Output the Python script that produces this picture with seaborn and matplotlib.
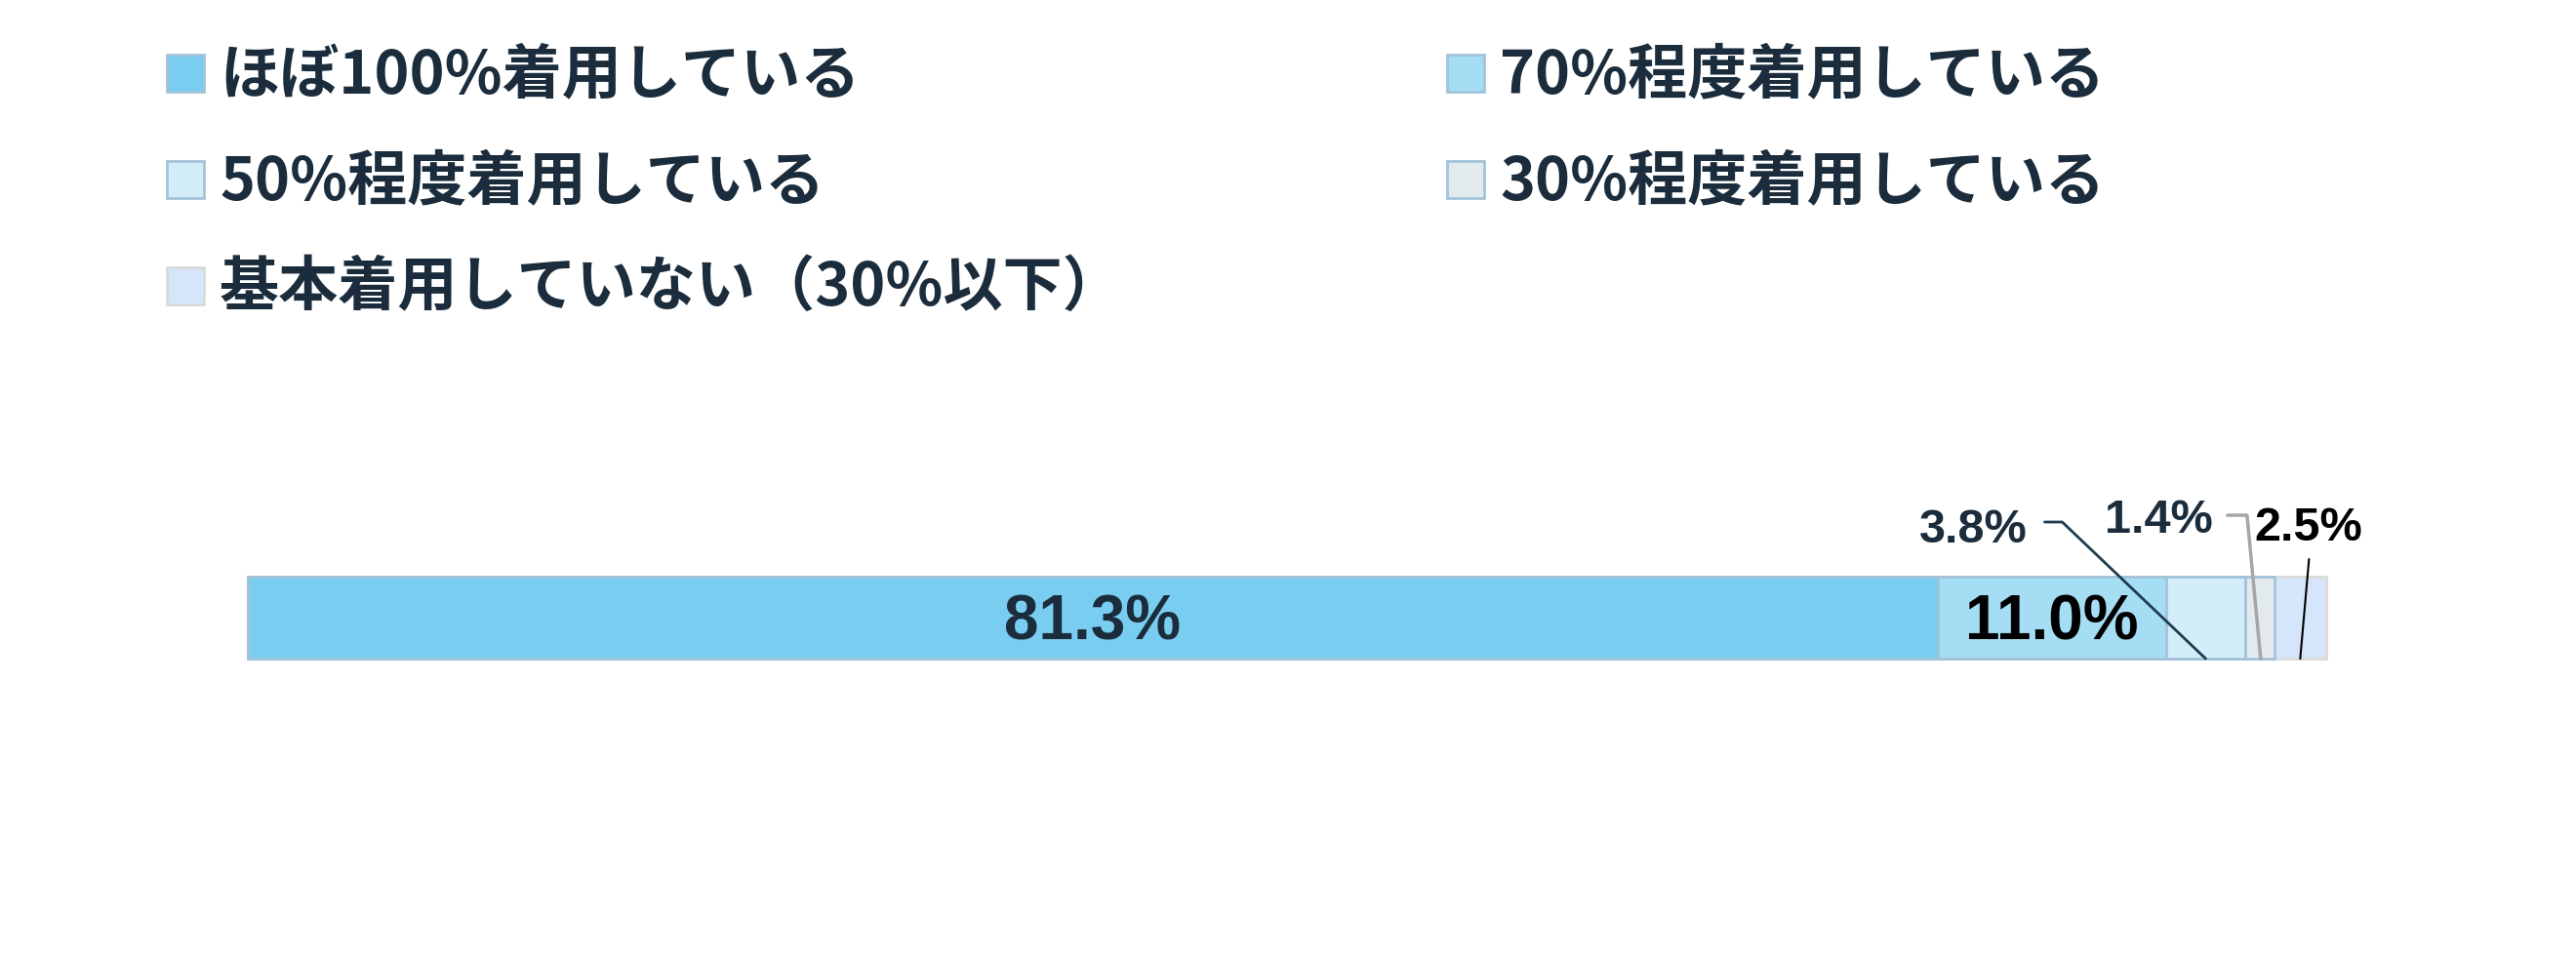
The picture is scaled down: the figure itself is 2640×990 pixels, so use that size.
import numpy as np
import pandas as pd
import seaborn as sns
import matplotlib.pyplot as plt
from matplotlib.patches import Rectangle
from matplotlib.lines import Line2D

# data
categories = ['ほぼ100%着用している', '70%程度着用している', '50%程度着用している',
              '30%程度着用している', '基本着用していない（30%以下）']
values = [81.3, 11.0, 3.8, 1.4, 2.5]
colors = ['#78CDF0', '#A5DEF4', '#D3EEF9', '#E2EAEE', '#D6E6FA']
edge_colors = ['#A2C3D9', '#A2C3D9', '#A2C3D9', '#A2C3D9', '#D9D9D9']

sns.set_theme(style='white')
plt.rcParams['font.family'] = ['Noto Sans CJK JP', 'DejaVu Sans']

W, H = 2640, 990
fig = plt.figure(figsize=(W / 100, H / 100), dpi=100)
fig.patch.set_facecolor('white')

# bar axes
ax = fig.add_axes([254 / W, 1 - 685.5 / H, 2130 / W, 105 / H])
cum = np.cumsum(values)
df = pd.DataFrame({'cat': categories, 'val': values, 'cum': cum})
for i in reversed(range(len(df))):
    sns.barplot(x=[df.cum[i]], y=['all'], orient='h', color=colors[i],
                saturation=1, width=0.8, edgecolor=edge_colors[i],
                linewidth=2, ax=ax)
for p in ax.patches:
    p.set_clip_on(False)
ax.set_xlim(0, 100)
ax.set_ylim(0.5, -0.5)
ax.axis('off')

navy = '#1B2D3C'
num_font = 'Liberation Sans'
centers = df.cum - df.val / 2

# labels inside big segments
inside_colors = [navy, '#000000']
for i in range(2):
    ax.annotate(f'{values[i]:.1f}%', xy=(centers[i], 0), xytext=(0, -23),
                textcoords='offset pixels', ha='center', va='baseline',
                fontsize=46, fontweight='bold', family=num_font,
                color=inside_colors[i])

# outside labels with leader lines
out_idx = [2, 3, 4]
out_text_off = [(-238, 119), (-103, 129), (8, 121)]
out_colors = [navy, navy, '#000000']
leader_colors = ['#1F3B4F', '#A6A6A6', '#000000']
leader_widths = [2, 2.5, 1.5]
leader_pts = [[(0, 0), (-147, 140), (-165, 140)],
              [(1, 0), (-13, 147), (-33, 147)],
              [(0, 0), (9, 102)]]
fig.canvas.draw()
for k, i in enumerate(out_idx):
    ax.annotate(f'{values[i]:.1f}%', xy=(centers[i], 0.4),
                xytext=out_text_off[k], textcoords='offset pixels',
                ha='center', va='baseline', fontsize=35, fontweight='bold',
                family=num_font, color=out_colors[k])
    ax0, ay0 = ax.transData.transform((centers[i], 0.4))
    xs = [(ax0 + dx) / W for dx, dy in leader_pts[k]]
    ys = [(ay0 + dy) / H for dx, dy in leader_pts[k]]
    fig.add_artist(Line2D(xs, ys, color=leader_colors[k],
                          lw=leader_widths[k], transform=fig.transFigure))

# legend (row-major, two columns)
col_x = [171, 1483]
row_y = [75, 184, 293]
sq = 38
for i, name in enumerate(categories):
    cx = col_x[i % 2]
    cy = row_y[i // 2]
    fig.add_artist(Rectangle((cx / W, 1 - (cy + sq / 2) / H), sq / W, sq / H,
                             facecolor=colors[i], edgecolor=edge_colors[i],
                             lw=2, transform=fig.transFigure))
    fig.text((cx + sq + 16) / W, 1 - (cy + 20) / H, name, ha='left',
             va='baseline', fontsize=44, fontweight='bold', color=navy)

fig.savefig('out.png', dpi=100, facecolor='white')
